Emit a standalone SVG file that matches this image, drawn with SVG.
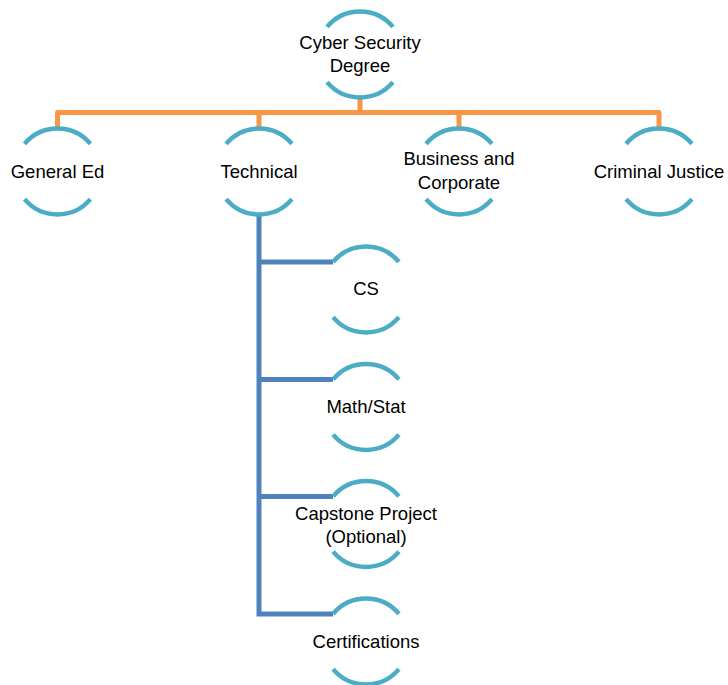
<svg xmlns="http://www.w3.org/2000/svg" width="728" height="685" viewBox="0 0 728 685">
<defs>
<style>
.arc{fill:none;stroke:#4BACC6;stroke-width:4.5}
.lbl{font-family:"Liberation Sans",Arial,sans-serif;font-size:18.5px;fill:#000;text-anchor:middle}
.orange{fill:none;stroke:#F79646;stroke-width:5;stroke-linejoin:round}
.blue{fill:none;stroke:#4F81BD;stroke-width:5;stroke-linejoin:miter}
</style>
<g id="ring">
<path class="arc" d="M-32.9,-27.6 A43,43 0 0 1 32.9,-27.6"/>
<path class="arc" d="M-32.9,27.6 A43,43 0 0 0 32.9,27.6"/>
</g>
</defs>
<g id="connectors">
<path class="orange" d="M360,97.5 V112.5 M57.5,128.5 V112.5 H659 V128.5 M259,112.5 V128.5 M459,112.5 V128.5"/>
<path class="blue" d="M259,214.5 V614 H333 M259,262 H333 M259,379.5 H333 M259,496.5 H333"/>
</g>
<g id="node-root"><use href="#ring" x="360" y="54.5"/>
<text class="lbl" x="360" y="48.5">Cyber Security</text><text class="lbl" x="360" y="71.5">Degree</text></g>
<g id="node-gened"><use href="#ring" x="57.5" y="171.5"/><text class="lbl" x="57.5" y="177.5">General Ed</text></g>
<g id="node-technical"><use href="#ring" x="259" y="171.5"/><text class="lbl" x="259" y="177.5">Technical</text></g>
<g id="node-business"><use href="#ring" x="459" y="171.5"/>
<text class="lbl" x="459" y="165">Business and</text><text class="lbl" x="459" y="188.5">Corporate</text></g>
<g id="node-criminal"><use href="#ring" x="659" y="171.5"/><text class="lbl" x="659" y="177.5">Criminal Justice</text></g>
<g id="node-cs"><use href="#ring" x="366" y="289.5"/><text class="lbl" x="366" y="295">CS</text></g>
<g id="node-math"><use href="#ring" x="366" y="407"/><text class="lbl" x="366" y="413">Math/Stat</text></g>
<g id="node-capstone"><use href="#ring" x="366" y="524"/>
<text class="lbl" x="366" y="520">Capstone Project</text><text class="lbl" x="366" y="542.5">(Optional)</text></g>
<g id="node-cert"><use href="#ring" x="366" y="641.5"/><text class="lbl" x="366" y="647.5">Certifications</text></g>
</svg>
